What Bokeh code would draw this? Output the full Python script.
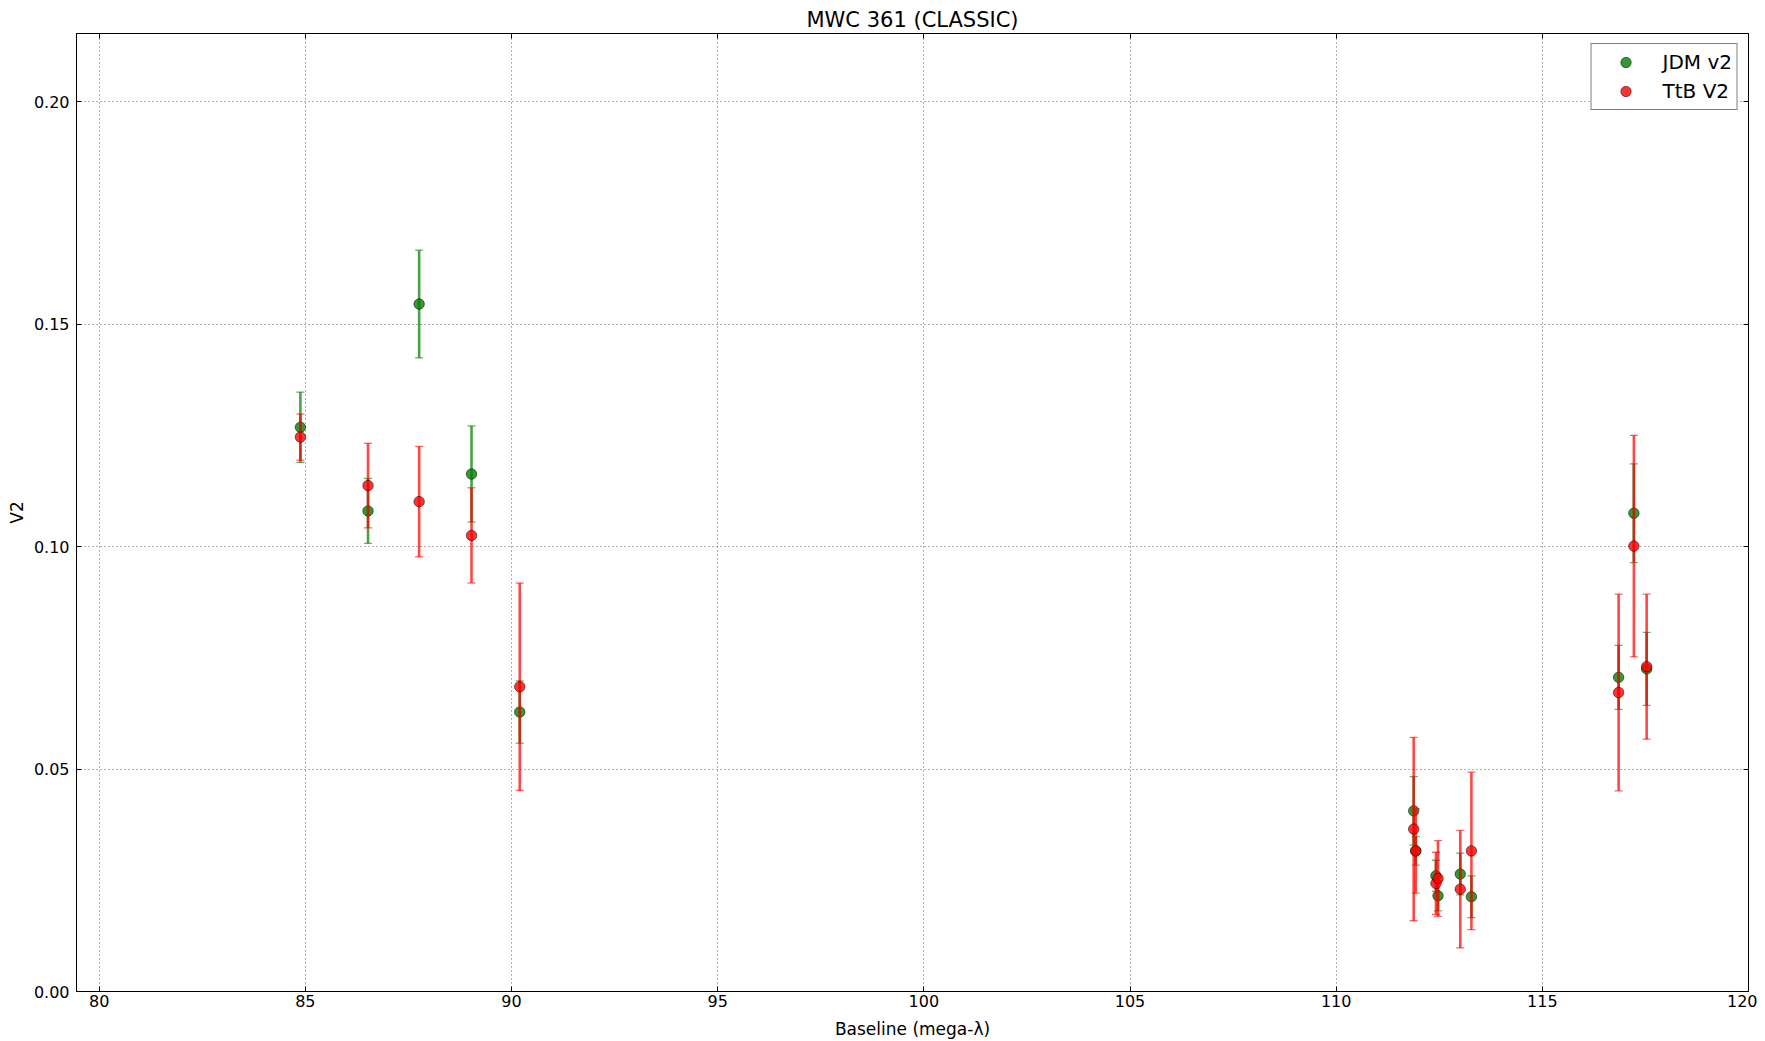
from bokeh.plotting import figure
from bokeh.models import (ColumnDataSource, Range1d, FixedTicker, LinearAxis,
                          PrintfTickFormatter, Legend, LegendItem)
from bokeh.embed import file_html
from bokeh.resources import INLINE

# ---- data ----
baseline = [84.88, 86.52, 87.76, 89.03, 90.20, 111.88, 111.93, 112.42, 112.47,
            113.01, 113.28, 116.85, 117.22, 117.53]
jdm_v2 = [0.1268, 0.1080, 0.1545, 0.1163, 0.0628, 0.0406, 0.0316, 0.0260, 0.0215,
          0.0264, 0.0213, 0.0706, 0.1075, 0.0725]
jdm_err = [0.0079, 0.0073, 0.0121, 0.0108, 0.0070, 0.0077, 0.0032, 0.0035, 0.0034,
           0.0047, 0.0047, 0.0072, 0.0111, 0.0082]
ttb_v2 = [0.1246, 0.1137, 0.1101, 0.1025, 0.0685, 0.0365, 0.0316, 0.0243, 0.0254,
          0.0230, 0.0316, 0.0672, 0.1001, 0.0730]
ttb_err = [0.0052, 0.0095, 0.0124, 0.0107, 0.0233, 0.0206, 0.0095, 0.0070, 0.0085,
           0.0132, 0.0177, 0.0221, 0.0249, 0.0163]

x_ticks = [80, 85, 90, 95, 100, 105, 110, 115, 120]
y_ticks = [0.00, 0.05, 0.10, 0.15, 0.20]

FONT = "DejaVu Sans"

p = figure(width=1757, height=1041, output_backend="svg", toolbar_location=None,
           x_range=Range1d(79.45, 120), y_range=Range1d(0, 0.2153),
           title="MWC 361 (CLASSIC)",
           min_border_left=76, min_border_right=9, min_border_top=33,
           min_border_bottom=49)
p.background_fill_color = "white"
p.border_fill_color = "white"
p.outline_line_color = "black"
p.outline_line_width = 1

p.title.align = "center"
p.title.text_font = FONT
p.title.text_font_size = "21px"
p.title.text_font_style = "normal"
p.title.text_color = "black"
p.title.standoff = 3
p.title.offset = 0

def style_axis(ax, ticks, show_labels=True):
    ax.ticker = FixedTicker(ticks=ticks, minor_ticks=[])
    ax.major_tick_in = 5
    ax.major_tick_out = 0
    ax.minor_tick_in = 0
    ax.minor_tick_out = 0
    ax.axis_line_color = "black"
    ax.major_tick_line_color = "black"
    ax.major_label_text_font = FONT
    ax.major_label_text_color = "black"
    if show_labels:
        ax.major_label_text_font_size = "16px"
    else:
        ax.major_label_text_font_size = "0px"
        ax.major_label_standoff = 0
        ax.axis_label_standoff = 0

style_axis(p.xaxis[0], x_ticks)
style_axis(p.yaxis[0], y_ticks)
p.xaxis[0].major_label_standoff = 3
p.yaxis[0].major_label_standoff = 7
p.yaxis[0].formatter = PrintfTickFormatter(format="%.2f")

p.xaxis.axis_label = "Baseline (mega-λ)"
p.yaxis.axis_label = "V2"
for ax in (p.xaxis[0], p.yaxis[0]):
    ax.axis_label_text_font = FONT
    ax.axis_label_text_font_size = "17px"
    ax.axis_label_text_font_style = "normal"
    ax.axis_label_text_color = "black"
p.xaxis[0].axis_label_standoff = 9
p.yaxis[0].axis_label_standoff = 4

top_ax = LinearAxis()
style_axis(top_ax, x_ticks, show_labels=False)
p.add_layout(top_ax, "above")
right_ax = LinearAxis()
style_axis(right_ax, y_ticks, show_labels=False)
p.add_layout(right_ax, "right")

for g, t in ((p.xgrid[0], x_ticks), (p.ygrid[0], y_ticks)):
    g.ticker = FixedTicker(ticks=t, minor_ticks=[])
    g.grid_line_color = "#606060"
    g.grid_line_dash = "1 3"
    g.grid_line_width = 1

def series(vals, errs, color):
    src = ColumnDataSource(dict(
        x=baseline, y=vals,
        lo=[v - e for v, e in zip(vals, errs)],
        hi=[v + e for v, e in zip(vals, errs)]))
    p.segment(x0="x", y0="lo", x1="x", y1="hi", source=src,
              line_color=color, line_alpha=0.72, line_width=2.6)
    p.scatter(x="x", y="hi", source=src, marker="dash", size=8,
              line_color=color, line_alpha=0.6, line_width=1.3)
    p.scatter(x="x", y="lo", source=src, marker="dash", size=8,
              line_color=color, line_alpha=0.6, line_width=1.3)
    r = p.scatter(x="x", y="y", source=src, marker="circle", size=10.5,
                  fill_color=color, fill_alpha=0.8,
                  line_color="black", line_alpha=0.5, line_width=1)
    return r

r_jdm = series(jdm_v2, jdm_err, "#008000")
r_ttb = series(ttb_v2, ttb_err, "#ff0000")

legend = Legend(items=[LegendItem(label="JDM v2", renderers=[r_jdm]),
                       LegendItem(label="TtB V2", renderers=[r_ttb])],
                location="top_right")
legend.margin = 10
legend.padding = 5
legend.spacing = 3
legend.glyph_width = 58
legend.glyph_height = 26
legend.label_standoff = 8
legend.label_text_font = FONT
legend.label_text_font_size = "20px"
legend.label_text_color = "black"
legend.border_line_color = "black"
legend.border_line_width = 1
legend.background_fill_color = "white"
legend.background_fill_alpha = 1
p.add_layout(legend, "center")

open("out.html", "w").write(file_html(p, INLINE))
